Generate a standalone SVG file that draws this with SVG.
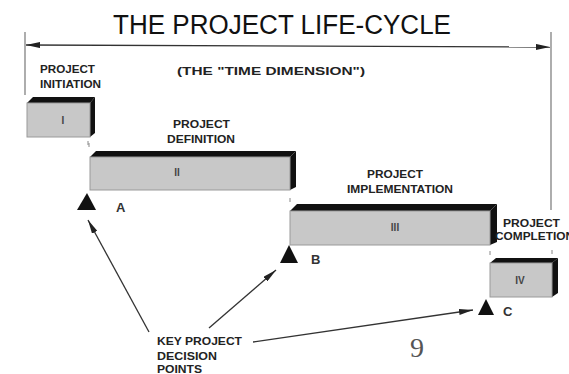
<svg xmlns="http://www.w3.org/2000/svg" width="569" height="374" viewBox="0 0 569 374">
<style>
.lbl{font-family:"Liberation Sans",Arial,sans-serif;font-weight:bold;font-size:11px;fill:#222}
.ltr{font-family:"Liberation Sans",Arial,sans-serif;font-weight:bold;font-size:13px;fill:#333}
.num{font-family:"Liberation Sans",Arial,sans-serif;font-weight:bold;font-size:10px;fill:#444;text-anchor:middle}
.front{fill:#c8c8c8;stroke:#9a9a9a;stroke-width:1}
.dark{fill:#111}
.ln{stroke:#333;stroke-width:1.3;fill:none}
.thin{stroke:#777;stroke-width:1.2;fill:none}
.tick{stroke:#888;stroke-width:1}
.tri{fill:#111}
</style>
<defs>
<marker id="ah" viewBox="0 0 14 6" refX="14" refY="3" markerWidth="14" markerHeight="6" markerUnits="userSpaceOnUse" orient="auto-start-reverse">
<path d="M0,0 L14,3 L0,6 z" fill="#222"/>
</marker>
</defs>
<rect width="569" height="374" fill="#fff"/>
<text x="113" y="34" textLength="338" lengthAdjust="spacingAndGlyphs" style="font-family:'Liberation Sans',Arial,sans-serif;font-size:27px;fill:#111">THE  PROJECT  LIFE-CYCLE</text>
<text class="lbl" x="177" y="75" textLength="188" lengthAdjust="spacingAndGlyphs">(THE "TIME DIMENSION")</text>
<g id="connectors">
<line class="thin" x1="25" y1="32" x2="25" y2="95"/>
<line class="thin" x1="551" y1="32" x2="551" y2="210"/>
<line class="ln" x1="26" y1="45" x2="550" y2="47" marker-start="url(#ah)" marker-end="url(#ah)"/>
<line class="ln" x1="149" y1="332" x2="88" y2="220" marker-end="url(#ah)"/>
<line class="ln" x1="209" y1="328" x2="276" y2="270" marker-end="url(#ah)"/>
<line class="ln" x1="253" y1="342" x2="473" y2="310" marker-end="url(#ah)"/>
<line class="tick" x1="88" y1="141" x2="88" y2="145"/>
<line class="tick" x1="89" y1="143" x2="89" y2="147"/>
<line class="tick" x1="290" y1="198" x2="290" y2="202"/>
<line class="tick" x1="490" y1="251" x2="490" y2="255"/>
<line class="tick" x1="552" y1="250" x2="552" y2="254"/>
</g>
<g id="phase1">
<text class="lbl" x="40" y="73" textLength="55" lengthAdjust="spacingAndGlyphs">PROJECT</text>
<text class="lbl" x="40" y="88" textLength="61" lengthAdjust="spacingAndGlyphs">INITIATION</text>
<polygon class="dark" points="27,103 33,97 95,97 90,103"/>
<polygon class="dark" points="90,103 95,97 95,133 90,137"/>
<rect class="front" x="27" y="103" width="63" height="34"/>
<text class="num" x="63" y="124">I</text>
</g>
<g id="phase2">
<text class="lbl" x="173" y="128" textLength="57" lengthAdjust="spacingAndGlyphs">PROJECT</text>
<text class="lbl" x="167" y="143" textLength="68" lengthAdjust="spacingAndGlyphs">DEFINITION</text>
<polygon class="dark" points="90,157 96,151 296,151 290,157"/>
<polygon class="dark" points="290,157 296,151 296,187 290,190"/>
<rect class="front" x="90" y="157" width="200" height="33"/>
<text class="num" x="177" y="176">II</text>
</g>
<g id="phase3">
<text class="lbl" x="367" y="178" textLength="56" lengthAdjust="spacingAndGlyphs">PROJECT</text>
<text class="lbl" x="347" y="193" textLength="106" lengthAdjust="spacingAndGlyphs">IMPLEMENTATION</text>
<polygon class="dark" points="290,211 297,204 497,204 490,211"/>
<polygon class="dark" points="490,211 497,204 497,242 490,245"/>
<rect class="front" x="290" y="211" width="200" height="34"/>
<text class="num" x="395" y="231">III</text>
</g>
<g id="phase4">
<text class="lbl" x="503" y="227" textLength="57" lengthAdjust="spacingAndGlyphs">PROJECT</text>
<text class="lbl" x="495" y="240" textLength="79" lengthAdjust="spacingAndGlyphs">COMPLETION</text>
<polygon class="dark" points="490,263 496,258 558,258 552,263"/>
<polygon class="dark" points="552,263 558,258 558,293 552,297"/>
<rect class="front" x="490" y="263" width="62" height="34"/>
<text class="num" x="520" y="284">IV</text>
</g>
<g id="pointA">
<polygon class="tri" points="87,193 96,210 77,210"/>
<text class="ltr" x="116" y="212">A</text>
</g>
<g id="pointB">
<polygon class="tri" points="289,245 298,263 280,263"/>
<text class="ltr" x="311" y="264">B</text>
</g>
<g id="pointC">
<polygon class="tri" points="486,299 494,315 478,315"/>
<text class="ltr" x="503" y="316">C</text>
</g>
<g id="keyPoints">
<text class="lbl" x="157" y="345" textLength="85" lengthAdjust="spacingAndGlyphs">KEY PROJECT</text>
<text class="lbl" x="157" y="360" textLength="60" lengthAdjust="spacingAndGlyphs">DECISION</text>
<text class="lbl" x="157" y="373" textLength="45" lengthAdjust="spacingAndGlyphs">POINTS</text>
</g>
<text x="410" y="357" style="font-family:'Liberation Serif','Times New Roman',serif;font-size:28px;fill:#555">9</text>
</svg>
